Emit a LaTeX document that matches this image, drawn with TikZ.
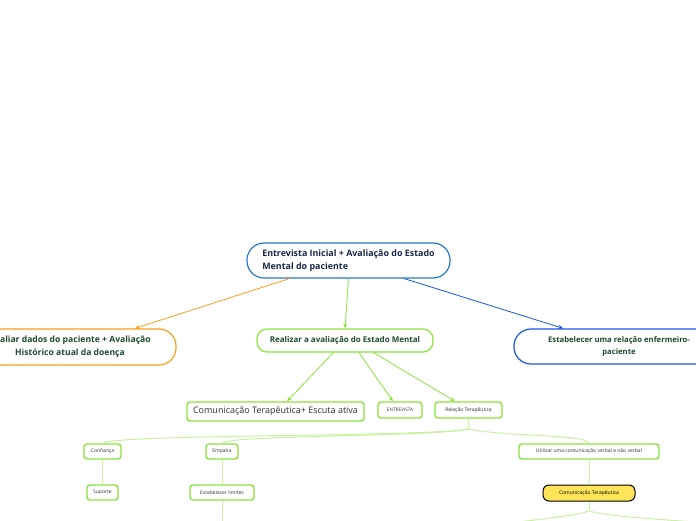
\documentclass[tikz,border=0pt]{standalone}
\usepackage{fontspec}
\setmainfont{Open Sans}
\usetikzlibrary{arrows.meta,calc}
\definecolor{lime}{RGB}{140,226,60}
\definecolor{palelime}{RGB}{200,240,160}
\definecolor{rootblue}{RGB}{40,120,200}
\definecolor{brightblue}{RGB}{25,85,230}
\definecolor{orangeline}{RGB}{247,160,30}
\definecolor{navytext}{RGB}{25,40,75}
\definecolor{greentext}{RGB}{30,75,45}
\definecolor{graytext}{RGB}{50,50,50}
\definecolor{yellowfill}{RGB}{255,228,90}
\tikzset{
  bigbox/.style={draw, line width=1.2pt, fill=white, inner sep=0pt, align=center},
  smallbox/.style={draw=lime, line width=1.4pt, rounded corners=3pt, fill=white, inner sep=0pt,
    text=graytext, font=\fontsize{5}{6}\selectfont},
  arr/.style={line width=0.8pt, -{Stealth[length=5pt,width=4pt]}},
  treeline/.style={draw=palelime, line width=1pt}
}
\begin{document}
\begin{tikzpicture}[x=1pt,y=-1pt]
\useasboundingbox (0,0) rectangle (696,520);
\clip (0,0) rectangle (696,520);
\fill[white] (0,0) rectangle (696,520);

% top level
\node[bigbox, draw=rootblue, rounded corners=17pt, minimum width=203pt, minimum height=35pt,
  align=left, text=navytext, font=\fontsize{8.9}{12.8}\selectfont\bfseries] (root) at (348.5,260.5)
  {Entrevista Inicial + Avaliação do Estado\\Mental do paciente};

\node[bigbox, draw=orangeline, rounded corners=17pt, minimum width=212pt, minimum height=36pt,
  text=greentext, font=\fontsize{8.6}{12.8}\selectfont\bfseries] (left) at (70,347)
  {Avaliar dados do paciente + Avaliação\\Histórico atual da doença};

\node[bigbox, draw=lime, rounded corners=10pt, minimum width=176pt, minimum height=23pt,
  text=greentext, font=\fontsize{8}{10}\selectfont\bfseries] (mid) at (345,340.5)
  {Realizar a avaliação do Estado Mental};

\node[bigbox, draw=brightblue, rounded corners=17pt, minimum width=210pt, minimum height=35pt,
  text=greentext, font=\fontsize{7.7}{11.5}\selectfont\bfseries] (right) at (619,346.5)
  {Estabelecer uma relação enfermeiro-\\paciente};

\draw[arr, orangeline] (root.197) -- (left.16);
\draw[arr, lime] (root.south) -- (mid.north);
\draw[arr, brightblue] (root.-18) -- (right.162);

% second level
\node[smallbox, minimum width=177pt, minimum height=19pt, font=\fontsize{9}{10}\selectfont] (comm) at (275.5,411.5)
  {Comunicação Terapêutica+ Escuta ativa};
\node[smallbox, minimum width=44pt, minimum height=16pt, font=\fontsize{4.7}{5}\selectfont] (entrev) at (400,410) {ENTREVISTA};
\node[smallbox, minimum width=67pt, minimum height=16pt] (rel) at (468.5,410) {Relação Terapêutica};

\draw[arr, lime] (mid.-134) -- ($(comm.north)+(11.5,0)$);
\draw[arr, lime] (mid.-41) -- ($(entrev.north)+(-7,0)$);
\draw[arr, lime] (mid.-23) -- ($(rel.north)+(-13.5,0)$);

% third level
\node[smallbox, minimum width=37pt, minimum height=15pt] (conf) at (102.5,451.5) {Confiança};
\node[smallbox, minimum width=32pt, minimum height=15pt] (emp) at (222,451.5) {Empatia};
\node[smallbox, minimum width=140pt, minimum height=15pt] (util) at (589,451.5) {Utilizar uma comunicação verbal e não verbal};

\coordinate (j1) at (469,429);
\draw[treeline] (rel.south) -- (j1);
\draw[treeline] (j1) .. controls (430,437) and (112,434) .. (conf.north);
\draw[treeline] (j1) .. controls (430,437) and (226,435) .. (emp.north);
\draw[treeline] (j1) .. controls (505,437) and (586,434) .. (util.north);

% fourth level
\node[smallbox, minimum width=31pt, minimum height=15pt] (sup) at (102.5,492.5) {Suporte};
\node[smallbox, minimum width=64pt, minimum height=15pt] (lim) at (222,492.5) {Estabelecer limites};
\node[draw=black, line width=1pt, fill=yellowfill, rounded corners=6pt, inner sep=0pt,
  minimum width=92pt, minimum height=16pt, text=black, font=\fontsize{5}{6}\selectfont] (ct) at (589,493)
  {Comunicação Terapêutica};

\draw[treeline] (conf.south) -- (sup.north);
\draw[treeline] (emp.south) -- (lim.north);
\coordinate (limend) at (222,530);
\draw[treeline] (lim.south) -- (limend);
\draw[treeline] (util.south) -- (ct.north);

\coordinate (j2) at (589,511);
\coordinate (l2) at (470,528);
\coordinate (r2) at (720,524);
\draw[treeline] (ct.south) -- (j2);
\draw[treeline] (j2) .. controls (570,517) and (530,520) .. (l2);
\draw[treeline] (j2) .. controls (610,517) and (660,519) .. (r2);
\end{tikzpicture}
\end{document}
